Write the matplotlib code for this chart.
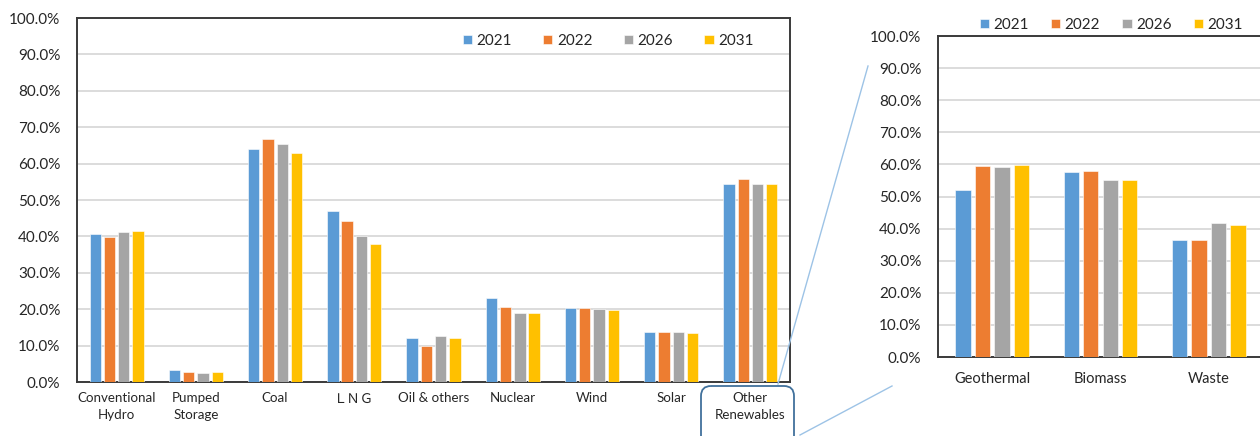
import numpy as np
import matplotlib
matplotlib.use("Agg")
import matplotlib.pyplot as plt
from matplotlib.patches import FancyBboxPatch
from matplotlib.ticker import PercentFormatter, MultipleLocator

# capacity factor by source, percent
years = ["2021", "2022", "2026", "2031"]
colors = ["#5B9BD5", "#ED7D31", "#A5A5A5", "#FFC000"]

sources = ["Conventional\nHydro", "Pumped\nStorage", "Coal", "ＬＮＧ", "Oil & others",
           "Nuclear", "Wind", "Solar", "Other\nRenewables"]
src_2021 = [40.6, 3.3, 64.0, 47.0, 12.0, 23.2, 20.2, 13.6, 54.3]
src_2022 = [39.8, 2.7, 66.8, 44.2, 9.9, 20.6, 20.3, 13.6, 55.8]
src_2026 = [41.2, 2.4, 65.4, 40.0, 12.6, 19.0, 20.0, 13.6, 54.3]
src_2031 = [41.4, 2.7, 63.0, 38.0, 12.2, 19.0, 19.9, 13.4, 54.5]

renewables = ["Geothermal", "Biomass", "Waste"]
ren_2021 = [52.1, 57.5, 36.5]
ren_2022 = [59.6, 57.9, 36.3]
ren_2026 = [59.1, 55.0, 41.7]
ren_2031 = [59.8, 55.2, 41.1]

FONT = ["Lato", "Noto Sans CJK JP", "DejaVu Sans"]
plt.rcParams["font.family"] = FONT
TXT = "#262626"

W, H = 1260, 436
fig = plt.figure(figsize=(W / 100, H / 100), dpi=100)


def px_axes(l, t, r, b):
    return fig.add_axes([l / W, 1 - b / H, (r - l) / W, (b - t) / H])


def grouped(ax, cats, series, xsize, ysize, xpad):
    x = np.arange(len(cats)) + 0.5
    pitch, width = 0.18, 0.143
    for i, (vals, yr, c) in enumerate(zip(series, years, colors)):
        ax.bar(x + (i - 1.5) * pitch, vals, width, color=c, label=yr,
               edgecolor="white", linewidth=0.4, zorder=3)
    ax.set_xlim(0, len(cats))
    ax.set_ylim(0, 100)
    ax.set_xticks(x)
    ax.set_xticklabels(cats, fontsize=xsize, color=TXT, linespacing=1.45)
    ax.yaxis.set_major_locator(MultipleLocator(10))
    ax.yaxis.set_major_formatter(PercentFormatter(100, decimals=1))
    ax.tick_params(axis="x", length=0, pad=xpad)
    ax.tick_params(axis="y", length=0, pad=12, labelsize=ysize, labelcolor=TXT)
    ax.grid(axis="y", color="#D9D9D9", linewidth=1.3, zorder=0)
    for s in ax.spines.values():
        s.set_color("#3A3A3A")
        s.set_linewidth(1.4)


# main chart
ax1 = px_axes(77, 18, 790, 382)
grouped(ax1, sources, [src_2021, src_2022, src_2026, src_2031], 9.6, 11, 7.5)
ax1.legend(ncol=4, loc="center left", bbox_to_anchor=(455 / W, 1 - 41 / H),
           bbox_transform=fig.transFigure, frameon=False, fontsize=11,
           handlelength=0.6, handleheight=0.6, handletextpad=0.3,
           columnspacing=2.05, borderpad=0, labelcolor=TXT)

# breakdown of other renewables
ax2 = px_axes(938, 36, 1263, 357)
grouped(ax2, renewables, [ren_2021, ren_2022, ren_2026, ren_2031], 10.5, 11, 11)
ax2.legend(ncol=4, loc="center left", bbox_to_anchor=(972 / W, 1 - 25 / H),
           bbox_transform=fig.transFigure, frameon=False, fontsize=11,
           handlelength=0.6, handleheight=0.6, handletextpad=0.3,
           columnspacing=1.45, borderpad=0, labelcolor=TXT)

# callout box and zoom lines in pixel space
ov = fig.add_axes([0, 0, 1, 1], zorder=10)
ov.set_xlim(0, W)
ov.set_ylim(H, 0)
ov.axis("off")
ov.patch.set_alpha(0)
ov.add_patch(FancyBboxPatch((701, 386), 93, 62, boxstyle="round,pad=0,rounding_size=10",
                            facecolor="none", edgecolor="#41719C", linewidth=1.3,
                            clip_on=False))
ov.plot([778, 868], [384, 66], color="#9DC3E6", linewidth=1)
ov.plot([800, 892], [435, 386], color="#9DC3E6", linewidth=1)

fig.savefig("out.png", dpi=100)
